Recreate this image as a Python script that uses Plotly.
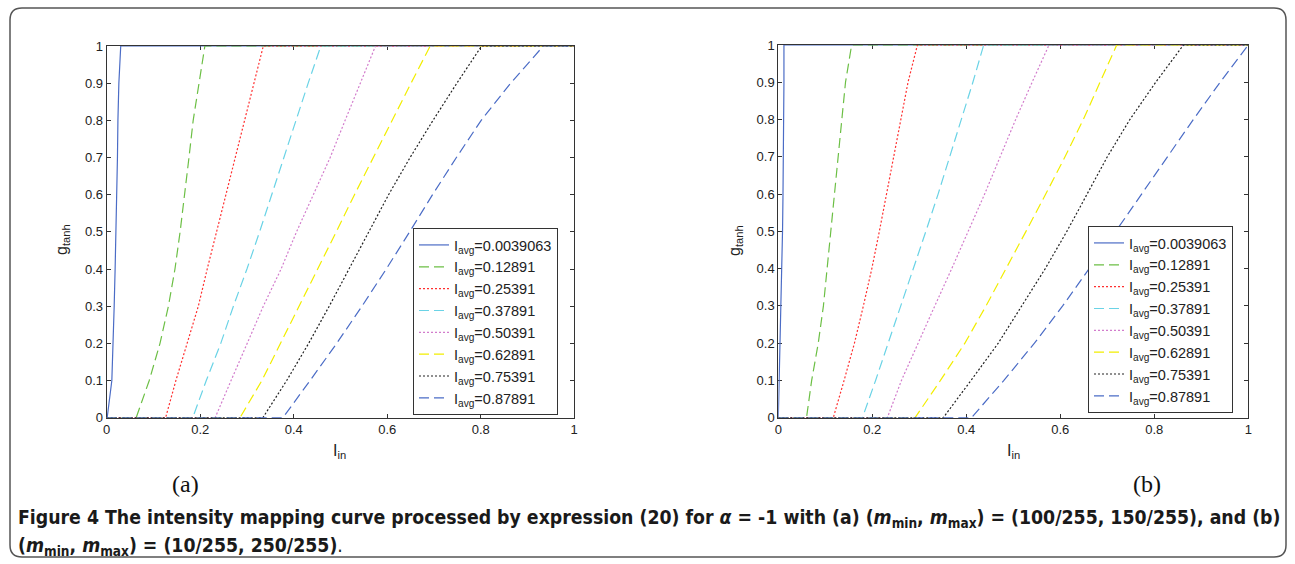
import plotly.graph_objects as go

W, H = 1295, 564

# g_tanh levels at which the curves were read
g_levels = [0.0, 0.1, 0.2, 0.3, 0.4, 0.5, 0.6, 0.7, 0.8, 0.9, 1.0]
i_avg = ["0.0039063", "0.12891", "0.25391", "0.37891", "0.50391", "0.62891", "0.75391", "0.87891"]

# I_in where each curve reaches g_levels -- panel (a)
a_0039 = [0.001, 0.011, 0.014, 0.016, 0.018, 0.020, 0.0215, 0.023, 0.024, 0.026, 0.030]
a_1289 = [0.063, 0.091, 0.114, 0.132, 0.146, 0.157, 0.167, 0.176, 0.185, 0.197, 0.210]
a_2539 = [0.126, 0.148, 0.172, 0.196, 0.215, 0.235, 0.255, 0.274, 0.294, 0.314, 0.335]
a_3789 = [0.184, 0.213, 0.244, 0.271, 0.300, 0.327, 0.353, 0.378, 0.405, 0.431, 0.458]
a_5039 = [0.232, 0.266, 0.300, 0.335, 0.373, 0.406, 0.442, 0.478, 0.510, 0.542, 0.575]
a_6289 = [0.285, 0.332, 0.372, 0.411, 0.451, 0.491, 0.530, 0.570, 0.610, 0.651, 0.692]
a_7539 = [0.334, 0.385, 0.432, 0.476, 0.518, 0.560, 0.603, 0.649, 0.698, 0.749, 0.802]
a_8789 = [0.377, 0.435, 0.492, 0.546, 0.598, 0.648, 0.697, 0.748, 0.801, 0.864, 0.934]

# panel (b)
b_0039 = [0.000, 0.002, 0.003, 0.005, 0.007, 0.009, 0.010, 0.011, 0.012, 0.012, 0.012]
b_1289 = [0.060, 0.071, 0.085, 0.096, 0.104, 0.112, 0.120, 0.128, 0.135, 0.143, 0.156]
b_2539 = [0.117, 0.140, 0.162, 0.181, 0.199, 0.215, 0.230, 0.245, 0.260, 0.276, 0.296]
b_3789 = [0.179, 0.207, 0.234, 0.261, 0.288, 0.314, 0.340, 0.365, 0.390, 0.414, 0.437]
b_5039 = [0.232, 0.262, 0.297, 0.333, 0.369, 0.404, 0.439, 0.472, 0.505, 0.540, 0.576]
b_6289 = [0.291, 0.345, 0.397, 0.442, 0.485, 0.527, 0.569, 0.610, 0.649, 0.685, 0.720]
b_7539 = [0.351, 0.410, 0.468, 0.518, 0.568, 0.614, 0.657, 0.700, 0.748, 0.803, 0.862]
b_8789 = [0.411, 0.480, 0.545, 0.605, 0.662, 0.718, 0.773, 0.828, 0.883, 0.940, 0.999]

curves_a = [a_0039, a_1289, a_2539, a_3789, a_5039, a_6289, a_7539, a_8789]
curves_b = [b_0039, b_1289, b_2539, b_3789, b_5039, b_6289, b_7539, b_8789]

colors = ["#4b6cc6", "#6cbf45", "#ff3030", "#6ad3e6", "#d27ccc", "#f2ee00", "#222222", "#4b6cc6"]
dashes = ["solid", "10px,5px", "2px,2px", "10px,5px", "2px,2px", "10px,5px", "2px,2px", "10px,5px"]

fig = go.Figure()

for panel, curves in (("a", curves_a), ("b", curves_b)):
    xa = "x" if panel == "a" else "x2"
    ya = "y" if panel == "a" else "y2"
    leg = "legend" if panel == "a" else "legend2"
    for k, xs in enumerate(curves):
        fig.add_trace(go.Scatter(
            x=[0.0] + xs + [1.0], y=[0.0] + g_levels + [1.0],
            mode="lines", xaxis=xa, yaxis=ya, legend=leg,
            name="I<sub>avg</sub>=" + i_avg[k],
            line=dict(color=colors[k], width=1.2, dash=dashes[k]),
        ))

def px_x(p):
    return p / W

def px_y(p):
    return (H - p) / H

axis_style = dict(range=[0, 1], showline=True, mirror="ticks", linecolor="#333",
                  linewidth=1, ticks="inside", ticklen=4, tickcolor="#333",
                  showgrid=False, zeroline=False, layer="below traces",
                  tickfont=dict(family="Liberation Sans, Arial", size=13, color="#222"))

leg_style = dict(xanchor="left", yanchor="top", bgcolor="white", bordercolor="#333",
                 borderwidth=1, tracegroupgap=0, itemwidth=30,
                 font=dict(family="Liberation Sans, Arial", size=14.5, color="#222"))

fig.update_layout(
    width=W, height=H,
    margin=dict(l=0, r=0, t=0, b=0, pad=0, autoexpand=False),
    paper_bgcolor="white", plot_bgcolor="white",
    xaxis=dict(domain=[px_x(106.7), px_x(574.2)], anchor="y", dtick=0.2, **axis_style),
    yaxis=dict(domain=[px_y(417.7), px_y(46)], anchor="x", dtick=0.1, **axis_style),
    xaxis2=dict(domain=[px_x(778.3), px_x(1248.3)], anchor="y2", dtick=0.2, **axis_style),
    yaxis2=dict(domain=[px_y(417.7), px_y(45)], anchor="x2", dtick=0.1, **axis_style),
    legend=dict(x=px_x(413), y=px_y(228), **leg_style),
    legend2=dict(x=px_x(1088), y=px_y(226), **leg_style),
    showlegend=True,
)

ann_font = dict(family="Liberation Sans, Arial", size=16, color="#222")
cap_font = dict(family="Liberation Sans Narrow, DejaVu Sans Condensed, Arial Narrow",
                size=19.3, color="#1a1a1a")
annotations = [
    dict(x=px_x(340), y=px_y(452), text="I<sub>in</sub>", font=ann_font),
    dict(x=px_x(1013), y=px_y(452), text="I<sub>in</sub>", font=ann_font),
    dict(x=px_x(63), y=px_y(240), text="g<sub>tanh</sub>", textangle=-90, font=ann_font),
    dict(x=px_x(736), y=px_y(240), text="g<sub>tanh</sub>", textangle=-90, font=ann_font),
    dict(x=px_x(185), y=px_y(484), text="(a)",
         font=dict(family="Liberation Serif, Times New Roman", size=24, color="#111")),
    dict(x=px_x(1147), y=px_y(484), text="(b)",
         font=dict(family="Liberation Serif, Times New Roman", size=24, color="#111")),
    dict(x=px_x(16), y=px_y(518), xanchor="left",
         text="<b>Figure 4 The intensity mapping curve processed by expression (20) for <i>α</i> = -1 with (a) "
              "(<i>m</i><sub>min</sub>, <i>m</i><sub>max</sub>) = (100/255, 150/255), and (b)</b>",
         font=cap_font),
    dict(x=px_x(16), y=px_y(546), xanchor="left",
         text="<b>(<i>m</i><sub>min</sub>, <i>m</i><sub>max</sub>) = (10/255, 250/255)</b>.",
         font=cap_font),
]
for a in annotations:
    a.update(xref="paper", yref="paper", showarrow=False)
    a.setdefault("xanchor", "center")
    a.setdefault("yanchor", "middle")
fig.update_layout(annotations=annotations)

# rounded outer frame
r = 12
x0, x1, y0, y1 = px_x(10), px_x(1286), px_y(557), px_y(8)
rx, ry = r / W, r / H
path = (f"M {x0 + rx},{y1} L {x1 - rx},{y1} Q {x1},{y1} {x1},{y1 - ry} "
        f"L {x1},{y0 + ry} Q {x1},{y0} {x1 - rx},{y0} L {x0 + rx},{y0} "
        f"Q {x0},{y0} {x0},{y0 + ry} L {x0},{y1 - ry} Q {x0},{y1} {x0 + rx},{y1} Z")
fig.add_shape(type="path", path=path, xref="paper", yref="paper",
              line=dict(color="#555", width=1.5), layer="below")

fig.write_html("out.html", config={"displayModeBar": False},
               post_script="document.body.style.margin='0';document.body.style.overflow='hidden';")
